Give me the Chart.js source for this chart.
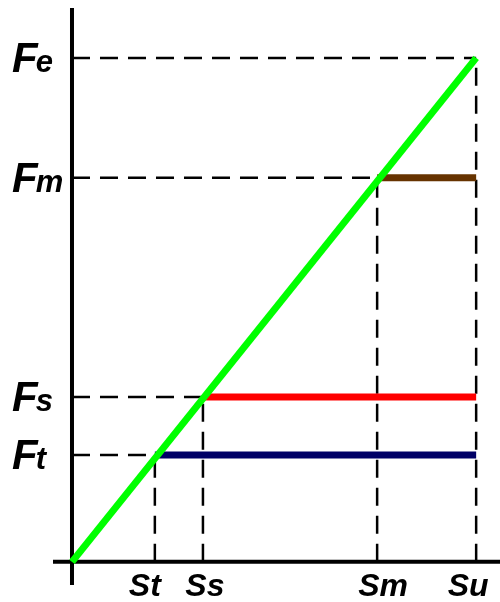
<!DOCTYPE html>
<html>
<head>
<meta charset="utf-8">
<script src="https://cdn.jsdelivr.net/npm/chart.js@4"></script>
<style>
  html, body { margin: 0; padding: 0; background: #fff; }
  canvas { display: block; }
</style>
</head>
<body>
<canvas id="chart" width="500" height="602"></canvas>
<script>
// ── Data (arbitrary units, Su = Fe = 10) ─────────────────────────────
const xLabels = ['St', 'Ss', 'Sm', 'Su'];
const xValues = [2.05, 3.24, 7.55, 10];
const yMain = 'F';
const ySubs = ['t', 's', 'm', 'e'];
const yValues = [2.12, 3.27, 7.62, 10];

// horizontal plateaus: start index into xValues / yValues, colour
const plateauIdx = [0, 1, 2];
const plateauColors = ['#000066', '#ff0000', '#663300'];

const xMin = -0.47, xMax = 10.59;
const yMin = -0.46, yMax = 10.99;

function seg(x1, y1, x2, y2) {
    return [{ x: x1, y: y1 }, { x: x2, y: y2 }];
}

const last = xValues.length - 1;
const datasets = [];

// main green line
datasets.push({
    data: seg(0, 0, xValues[last], yValues[last]),
    borderColor: '#00ff00',
    borderWidth: 7
});

// coloured plateaus
plateauIdx.forEach((i, k) => {
    datasets.push({
        data: seg(xValues[i], yValues[i], xValues[last], yValues[i]),
        borderColor: plateauColors[k],
        borderWidth: 7
    });
});

// dashed guide lines
xValues.forEach((xv, i) => {
    const yv = yValues[i];
    datasets.push({ data: seg(0, yv, xv, yv), borderColor: '#000', borderWidth: 2.5, borderDash: [18, 10] });
    datasets.push({ data: seg(xv, 0, xv, yv), borderColor: '#000', borderWidth: 2.5, borderDash: [18, 10] });
});

// axes
datasets.push({ data: seg(0, yMin, 0, yMax), borderColor: '#000', borderWidth: 4 });
datasets.push({ data: seg(xMin, 0, xMax, 0), borderColor: '#000', borderWidth: 4 });

datasets.forEach(d => { d.showLine = true; d.pointRadius = 0; d.fill = false; });

// small horizontal nudges of the x labels (px)
const xLabelShift = [-10, 2, 6, -8];

const labelPlugin = {
    id: 'labels',
    afterDatasetsDraw(chart) {
        const { ctx, scales: { x, y } } = chart;
        ctx.save();
        ctx.fillStyle = '#000';
        ctx.textBaseline = 'alphabetic';

        // y labels: F + subscript
        yValues.forEach((v, i) => {
            const py = y.getPixelForValue(v) + 14;
            ctx.font = 'italic bold 42px "Liberation Sans", Arial, sans-serif';
            ctx.textAlign = 'left';
            ctx.fillText(yMain, 12, py);
            const w = ctx.measureText(yMain).width;
            ctx.font = 'italic bold 31px "Liberation Sans", Arial, sans-serif';
            ctx.fillText(ySubs[i], 12 + w - 2, py);
        });

        // x labels
        ctx.font = 'italic bold 32px "Liberation Sans", Arial, sans-serif';
        ctx.textAlign = 'center';
        xValues.forEach((v, i) => {
            ctx.fillText(xLabels[i], x.getPixelForValue(v) + xLabelShift[i], 596);
        });
        ctx.restore();
    }
};

new Chart(document.getElementById('chart'), {
    type: 'scatter',
    data: { datasets },
    options: {
        responsive: false,
        animation: false,
        layout: { padding: { left: 53, right: 0, top: 8, bottom: 17 } },
        plugins: { legend: { display: false }, tooltip: { enabled: false } },
        scales: {
            x: { type: 'linear', min: xMin, max: xMax, display: false },
            y: { type: 'linear', min: yMin, max: yMax, display: false }
        }
    },
    plugins: [labelPlugin]
});
</script>
</body>
</html>
